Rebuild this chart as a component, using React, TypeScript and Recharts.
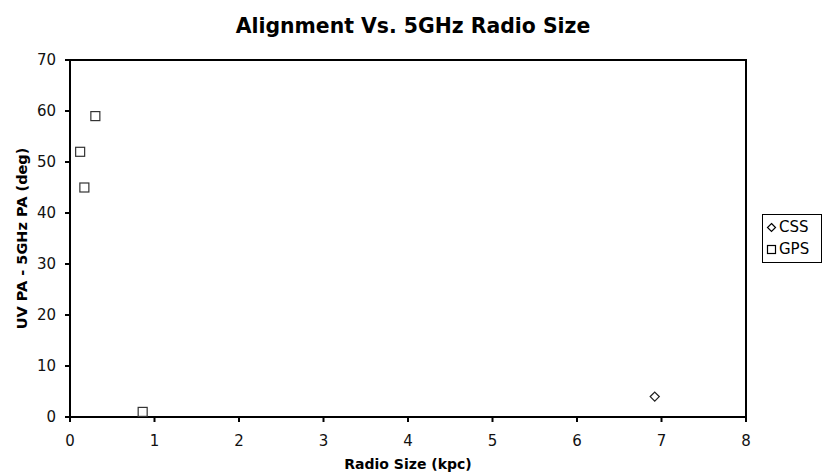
import React from "react";
import { ScatterChart, Scatter, XAxis, YAxis, ReferenceArea } from "recharts";

const cssX = [6.92];
const cssY = [4];
const gpsX = [0.3, 0.12, 0.17, 0.86];
const gpsY = [59, 52, 45, 1];
const xTicks = [0, 1, 2, 3, 4, 5, 6, 7, 8];
const yTicks = [0, 10, 20, 30, 40, 50, 60, 70];

const cssData = cssX.map((x, i) => ({ x, y: cssY[i] }));
const gpsData = gpsX.map((x, i) => ({ x, y: gpsY[i] }));

const FONT = "'DejaVu Sans', Verdana, sans-serif";

const Square = (p: any) => (
  <rect x={p.cx - 4.5} y={p.cy - 4.5} width={9} height={9} fill="#fff" stroke="#333" strokeWidth={1.2} />
);
const Diamond = (p: any) => (
  <polygon
    points={`${p.cx},${p.cy - 4.5} ${p.cx + 4.5},${p.cy} ${p.cx},${p.cy + 4.5} ${p.cx - 4.5},${p.cy}`}
    fill="#fff"
    stroke="#222"
    strokeWidth={1.3}
  />
);

const YLabel = (props: any) => {
  const vb = props.viewBox || {};
  const cx = (vb.x || 0) + 12;
  const cy = (vb.y || 0) + (vb.height || 0) / 2;
  return (
    <text
      x={cx}
      y={cy}
      transform={`rotate(-90, ${cx}, ${cy})`}
      textAnchor="middle"
      dominantBaseline="central"
      style={{ fontFamily: FONT, fontWeight: "bold", fontSize: 14.5, fill: "#000" }}
    >
      UV PA - 5GHz PA (deg)
    </text>
  );
};

const LegendBox = () => (
  <div
    style={{
      position: "absolute",
      left: 762,
      top: 214,
      border: "1.5px solid #000",
      width: 60,
      height: 49,
      boxSizing: "border-box",
      fontFamily: FONT,
      fontSize: 15,
      lineHeight: "22px",
      paddingLeft: 3,
      paddingTop: 1,
      background: "#fff",
      color: "#000",
    }}
  >
    <div style={{ display: "flex", alignItems: "center" }}>
      <svg width={11} height={11} style={{ marginRight: 2 }}>
        <polygon points="5.5,1.5 9.5,5.5 5.5,9.5 1.5,5.5" fill="none" stroke="#000" strokeWidth={1.2} />
      </svg>
      CSS
    </div>
    <div style={{ display: "flex", alignItems: "center" }}>
      <svg width={11} height={11} style={{ marginRight: 2 }}>
        <rect x={1.5} y={1.5} width={8} height={8} fill="none" stroke="#000" strokeWidth={1.2} />
      </svg>
      GPS
    </div>
  </div>
);

export default function App() {
  return (
    <div style={{ position: "absolute", left: 0, top: 0, width: 830, height: 473, background: "#fff" }}>
      <div
        style={{
          position: "absolute",
          left: 0,
          top: 14,
          width: 826,
          textAlign: "center",
          fontFamily: FONT,
          fontWeight: "bold",
          fontSize: 20.4,
          lineHeight: "24px",
        }}
      >
        Alignment Vs. 5GHz Radio Size
      </div>
      <ScatterChart width={830} height={473} margin={{ top: 60, right: 84, bottom: 26, left: 10 }}>
        <XAxis
          type="number"
          dataKey="x"
          domain={[0, 8]}
          ticks={xTicks}
          interval={0}
          tickSize={5}
          tickMargin={13}
          height={30}
          axisLine={{ stroke: "#000", strokeWidth: 2 }}
          tickLine={{ stroke: "#000", strokeWidth: 2 }}
          tick={{ fill: "#111", fontSize: 15, fontFamily: FONT }}
          label={{
            value: "Radio Size (kpc)",
            position: "insideBottom",
            offset: -22,
            style: { fontFamily: FONT, fontWeight: "bold", fontSize: 14, fill: "#000" },
          }}
        />
        <YAxis
          type="number"
          dataKey="y"
          domain={[0, 70]}
          ticks={yTicks}
          interval={0}
          width={60}
          tickSize={5}
          tickMargin={9}
          axisLine={{ stroke: "#000", strokeWidth: 2 }}
          tickLine={{ stroke: "#000", strokeWidth: 2 }}
          tick={{ fill: "#111", fontSize: 15, fontFamily: FONT }}
          label={<YLabel />}
        />
        <ReferenceArea x1={0} x2={8} y1={0} y2={70} fill="none" stroke="#000" strokeWidth={2} ifOverflow="visible" />
        <Scatter name="CSS" data={cssData} shape={Diamond} isAnimationActive={false} />
        <Scatter name="GPS" data={gpsData} shape={Square} isAnimationActive={false} />
      </ScatterChart>
      <LegendBox />
    </div>
  );
}
